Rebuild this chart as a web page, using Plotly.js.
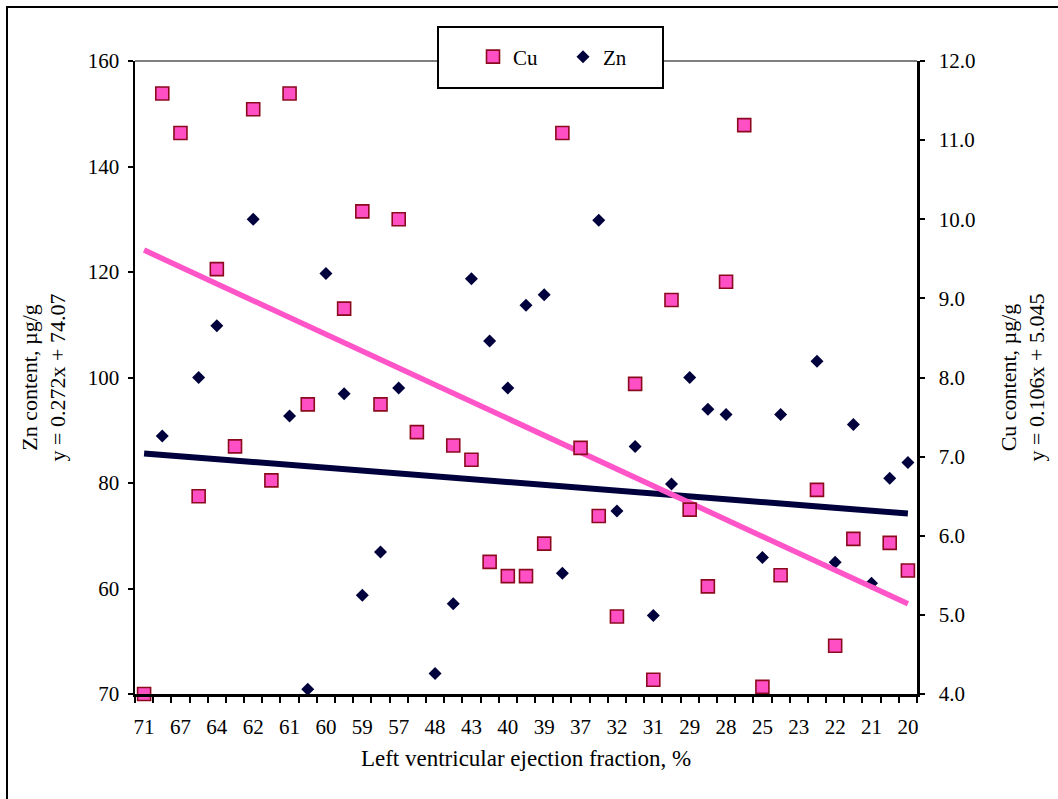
<!DOCTYPE html>
<html>
<head>
<meta charset="utf-8">
<script src="https://cdn.plot.ly/plotly-3.0.1.min.js"></script>
<style>
  html, body { margin: 0; padding: 0; background: #fff; overflow: hidden; }
  #wrap { position: relative; width: 1058px; height: 799px; }
  #chart { position: absolute; left: 0; top: 0; width: 1058px; height: 799px; }
  #frame { position: absolute; left: 6px; top: 6px; width: 1200px; height: 1000px;
           border-left: 2px solid #000; border-top: 2px solid #000; pointer-events: none; }
</style>
</head>
<body>
<div id="wrap">
  <div id="chart"></div>
  <div id="frame"></div>
</div>
<script>
// ---- data ----
// tick labels shown under every other category (left ventricular ejection fraction, %)
const efLabels = ['71','67','64','62','61','60','59','57','48','43','40','39','37','32','31','29','28','25','23','22','21','20'];

// Cu content, µg/g (right axis), one value per category (null = no point)
const cuValues = [4.00, 11.59, 11.09, 6.50, 9.37, 7.13, 11.39, 6.70, 11.59, 7.66,
                  null, 8.87, 10.10, 7.66, 10.00, 7.31, null, 7.14, 6.96, 5.67,
                  5.49, 5.49, 5.90, 11.09, 7.11, 6.25, 4.98, 7.92, 4.18, 8.98,
                  6.33, 5.36, 9.21, 11.19, 4.09, 5.50, null, 6.58, 4.61, 5.96,
                  null, 5.91, 5.56];

// Zn content, µg/g (left axis)
const znValues = [null, 88.9, null, 100.0, 109.8, null, 130.0, null, 92.7, 40.9,
                  119.7, 96.9, 58.7, 66.9, 98.0, null, 43.9, 57.1, 118.7, 106.9,
                  98.0, 113.7, 115.7, 62.9, null, 129.8, 74.7, 86.9, 54.9, 79.8,
                  100.0, 94.0, 93.0, null, 65.9, 93.0, null, 103.1, 65.0, 91.1,
                  61.0, 80.9, 83.9];

// trend lines (value at first and last category)
const cuTrend = [9.61, 5.14];
const znTrend = [85.6, 74.2];

// left axis tick values and the labels printed in the figure
const znTickVals = [40, 60, 80, 100, 120, 140, 160];
const znTickText = ['70', '60', '80', '100', '120', '140', '160'];

// ---- derived ----
const nCat = cuValues.length;
const idx = cuValues.map((_, i) => i);
const labelPos = efLabels.map((_, k) => 2 * k);
const bounds = [];
for (let k = 0; k <= nCat; k++) bounds.push(k - 0.5);
const trendX = [0, nCat - 1];

const FONT = "'Liberation Serif', 'Times New Roman', serif";
const PINK = '#ff55c8';
const NAVY = '#00003c';

const traces = [
  { x: trendX, y: cuTrend, yaxis: 'y2', mode: 'lines', showlegend: false, hoverinfo: 'skip',
    line: { color: PINK, width: 5.5 } },
  { x: trendX, y: znTrend, yaxis: 'y', mode: 'lines', showlegend: false, hoverinfo: 'skip',
    line: { color: NAVY, width: 6 } },
  { x: idx, y: cuValues, yaxis: 'y2', name: 'Cu', mode: 'markers', cliponaxis: false,
    marker: { symbol: 'square', size: 13, color: '#ff4fc4', line: { color: '#8b0a1e', width: 1.6 } } },
  { x: idx, y: znValues, yaxis: 'y', name: 'Zn', mode: 'markers', cliponaxis: false,
    marker: { symbol: 'diamond', size: 10, color: NAVY, line: { width: 0 } } }
];

const axBase = { showgrid: false, zeroline: false, fixedrange: true };
const tickFont = { family: FONT, size: 21, color: '#000' };

const layout = {
  width: 1058, height: 799,
  margin: { l: 135, r: 141, t: 61, b: 105, pad: 0 },
  paper_bgcolor: '#fff', plot_bgcolor: '#fff',
  font: { family: FONT, color: '#000' },
  showlegend: true,
  xaxis: Object.assign({}, axBase, {
    range: [-0.5, nCat - 0.5],
    tickmode: 'array', tickvals: labelPos, ticktext: efLabels,
    ticks: '', ticklabelstandoff: 12, tickfont: tickFont,
    showline: true, linecolor: '#000', linewidth: 2.5,
    minor: { tickmode: 'array', tickvals: bounds, ticks: 'outside', ticklen: 6, tickwidth: 2, tickcolor: '#000' },
    title: { text: 'Left ventricular ejection fraction, %', font: { family: FONT, size: 23 }, standoff: 12 }
  }),
  xaxis2: Object.assign({}, axBase, {
    overlaying: 'x', anchor: 'y', side: 'bottom',
    range: [-0.5, nCat - 0.5],
    tickmode: 'array', tickvals: bounds, ticks: 'inside', ticklen: 6, tickwidth: 2, tickcolor: '#000',
    showticklabels: false, showline: false
  }),
  yaxis: Object.assign({}, axBase, {
    range: [40, 160], tickmode: 'array', tickvals: znTickVals, ticktext: znTickText,
    ticks: 'outside', ticklen: 5, tickwidth: 2, tickcolor: '#000', tickfont: tickFont,
    ticklabelstandoff: 4,
    showline: true, linecolor: '#000', linewidth: 2.5,
    title: { text: 'Zn content, µg/g<br>y = 0.272x + 74.07', font: { family: FONT, size: 22 }, standoff: 16 }
  }),
  yaxis3: Object.assign({}, axBase, {
    overlaying: 'y', side: 'left', anchor: 'x',
    range: [40, 160], tickmode: 'array', tickvals: znTickVals,
    ticks: 'inside', ticklen: 6, tickwidth: 2, tickcolor: '#000',
    showticklabels: false, showline: false
  }),
  yaxis2: Object.assign({}, axBase, {
    overlaying: 'y', side: 'right', anchor: 'x',
    range: [4, 12], tickmode: 'linear', tick0: 4, dtick: 1, tickformat: '.1f',
    ticks: 'outside', ticklen: 5, tickwidth: 2, tickcolor: '#000', tickfont: tickFont,
    ticklabelstandoff: 10,
    showline: true, linecolor: '#000', linewidth: 2.5,
    title: { text: 'Cu content, µg/g<br>y = 0.106x + 5.045', font: { family: FONT, size: 22 }, standoff: 26 }
  }),
  yaxis4: Object.assign({}, axBase, {
    overlaying: 'y', side: 'right', anchor: 'x',
    range: [4, 12], tickmode: 'linear', tick0: 4, dtick: 1,
    ticks: 'inside', ticklen: 6, tickwidth: 2, tickcolor: '#000',
    showticklabels: false, showline: false
  }),
  shapes: [
    { type: 'line', xref: 'paper', yref: 'paper', x0: 0, x1: 1, y0: 1, y1: 1,
      line: { color: '#555', width: 1.5 }, layer: 'above' },
    { type: 'rect', xref: 'paper', yref: 'paper',
      x0: (438 - 135) / 782, x1: (663 - 135) / 782, y0: (694 - 88) / 633, y1: (694 - 27) / 633,
      fillcolor: '#fff', line: { color: '#000', width: 2 }, layer: 'above' }
  ],
  legend: {
    orientation: 'h', x: (473 - 135) / 782, xanchor: 'left',
    y: (694 - 57) / 633, yanchor: 'middle',
    bgcolor: 'rgba(0,0,0,0)', borderwidth: 0,
    font: { family: FONT, size: 21, color: '#000' },
    entrywidth: 45, entrywidthmode: 'pixels', itemwidth: 30
  }
};

Plotly.newPlot('chart', traces, layout, { displayModeBar: false, staticPlot: true });
</script>
</body>
</html>
